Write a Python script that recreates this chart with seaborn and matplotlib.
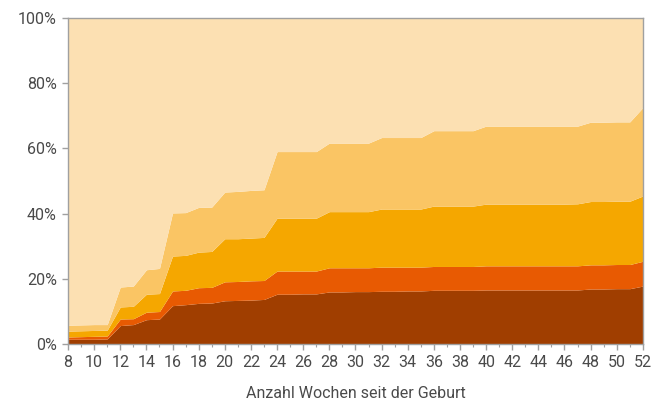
import numpy as np
import pandas as pd
import matplotlib
matplotlib.use("Agg")
import matplotlib.pyplot as plt
import seaborn as sns
from matplotlib.ticker import MultipleLocator, PercentFormatter

# weeks since birth
weeks = list(range(8, 53))

# layer shares in percent (bottom to top)
layer1 = [1.5, 1.5, 1.5, 1.6, 5.7, 6.0, 7.5, 7.7, 11.8, 12.1, 12.5, 12.6,
          13.3, 13.4, 13.5, 13.7, 15.3, 15.3, 15.4, 15.4, 16.0, 16.0, 16.1, 16.1,
          16.2, 16.2, 16.3, 16.3, 16.5, 16.5, 16.5, 16.5, 16.6, 16.6, 16.6, 16.6,
          16.6, 16.6, 16.6, 16.6, 16.9, 16.9, 17.0, 17.0, 17.8]
layer2 = [0.7, 0.8, 0.9, 0.9, 2.0, 1.8, 2.3, 2.3, 4.5, 4.4, 4.8, 4.8,
          5.8, 5.8, 5.9, 5.8, 7.1, 7.1, 7.0, 7.0, 7.4, 7.4, 7.3, 7.3,
          7.4, 7.4, 7.3, 7.3, 7.3, 7.3, 7.3, 7.3, 7.4, 7.4, 7.4, 7.4,
          7.4, 7.4, 7.4, 7.4, 7.4, 7.4, 7.4, 7.4, 7.6]
layer3 = [1.8, 1.8, 1.8, 1.8, 3.7, 3.8, 5.5, 5.5, 10.7, 10.7, 10.9, 11.0,
          13.2, 13.1, 13.1, 13.2, 16.2, 16.2, 16.2, 16.2, 17.2, 17.2, 17.2, 17.2,
          17.8, 17.8, 17.8, 17.8, 18.5, 18.5, 18.5, 18.5, 18.9, 18.9, 18.9, 18.9,
          18.9, 18.9, 18.9, 19.0, 19.4, 19.4, 19.4, 19.4, 20.0]
layer4 = [1.8, 1.8, 1.8, 1.7, 6.1, 6.2, 7.5, 7.7, 13.2, 13.1, 13.7, 13.6,
          14.3, 14.5, 14.6, 14.6, 20.4, 20.4, 20.4, 20.4, 21.0, 21.0, 21.0, 21.0,
          21.9, 21.9, 21.9, 21.9, 23.1, 23.1, 23.1, 23.1, 23.9, 23.9, 23.9, 23.9,
          23.9, 23.9, 23.9, 23.8, 24.3, 24.3, 24.3, 24.3, 27.1]

df = pd.DataFrame({"week": weeks, "l1": layer1, "l2": layer2, "l3": layer3, "l4": layer4})
df["rest"] = 100 - df[["l1", "l2", "l3", "l4"]].sum(axis=1)

colors = ["#A03E00", "#E85A02", "#F5A700", "#FAC564", "#FCE0B2"]

sns.set_theme(style="white")
plt.rcParams["font.family"] = ["Roboto", "DejaVu Sans"]

fig, ax = plt.subplots(figsize=(6.54, 4.03), dpi=100)
ax.stackplot(df["week"], df["l1"], df["l2"], df["l3"], df["l4"], df["rest"],
             colors=colors, linewidth=0)

ax.set_xlim(8, 52)
ax.set_ylim(0, 100)
ax.xaxis.set_major_locator(MultipleLocator(2))
ax.xaxis.set_minor_locator(MultipleLocator(1))
ax.yaxis.set_major_locator(MultipleLocator(20))
ax.yaxis.set_major_formatter(PercentFormatter(decimals=0))

for s in ax.spines.values():
    s.set_color("#A0A0A0")
    s.set_linewidth(1.0)

ax.tick_params(axis="both", which="major", direction="out", length=4, width=1,
               color="#A0A0A0", labelsize=11.5, labelcolor="#4a4a4a", pad=4)
ax.tick_params(axis="x", which="minor", direction="out", length=2, width=0.8,
               color="#A0A0A0", bottom=True)
ax.tick_params(axis="x", which="major", bottom=True)
ax.tick_params(axis="y", which="major", left=True)

ax.set_xlabel("Anzahl Wochen seit der Geburt", fontsize=11.5, color="#4a4a4a",
              labelpad=11)
ax.set_ylabel("")

fig.subplots_adjust(left=0.104, right=0.983, top=0.956, bottom=0.146)
fig.savefig("out.png", dpi=100)
